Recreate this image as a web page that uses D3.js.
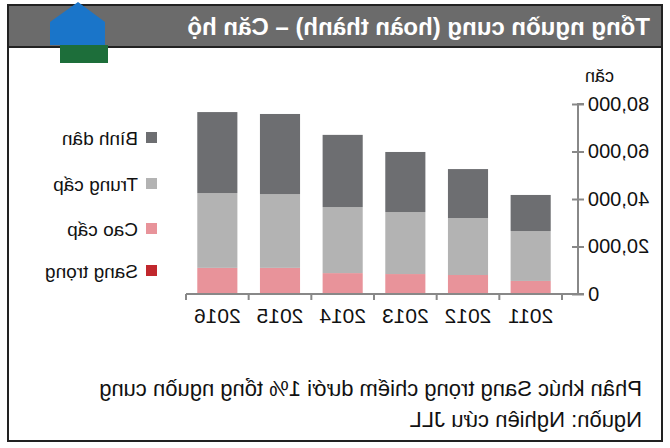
<!DOCTYPE html>
<html><head><meta charset="utf-8">
<script src="https://cdn.jsdelivr.net/npm/d3@7"></script>
<style>
  body { margin: 0; background: #fff; }
  /* the reference picture is a mirror image, so the whole chart is flipped */
  #chart svg { transform: scaleX(-1); display: block; }
</style></head>
<body><div id="chart"></div>
<script>
const years = ['2011', '2012', '2013', '2014', '2015', '2016'];
const sangTrong = [300, 300, 300, 300, 300, 300];
const caoCap = [5200, 7700, 8100, 8500, 10700, 10700];
const trungCap = [21000, 24000, 26100, 27800, 31100, 31500];
const binhDan = [15200, 20600, 25300, 30400, 33700, 34100];
const yTicks = [0, 20000, 40000, 60000, 80000];
const seriesNames = ['Sang trọng', 'Cao cấp', 'Trung cấp', 'Bình dân'];
const colors = ['#c1272d', '#e8939a', '#b3b3b3', '#6d6e71'];

const W = 670, H = 448;
const svg = d3.select('#chart').append('svg').attr('width', W).attr('height', H)
  .style('font-family', 'Liberation Sans, Arial, sans-serif');

// frame and title bar
svg.append('rect').attr('x', 8).attr('y', 5).attr('width', 654).attr('height', 436)
  .attr('fill', '#fff').attr('stroke', '#222').attr('stroke-width', 2);
svg.append('rect').attr('x', 8).attr('y', 5).attr('width', 654).attr('height', 42)
  .attr('fill', '#6b6b6b').attr('stroke', '#222').attr('stroke-width', 2);
svg.append('text').attr('x', 20).attr('y', 35).attr('fill', '#fff')
  .style('font-size', '24px').style('font-weight', 'bold')
  .text('Tổng nguồn cung (hoàn thành) – Căn hộ');
// watermark house
svg.append('path').attr('d', 'M565,22 L592,2 L620,22 L620,45 L565,45 Z').attr('fill', '#1a75c9');
svg.append('rect').attr('x', 562).attr('y', 45).attr('width', 48).attr('height', 18).attr('fill', '#1d6e3a');

const x = d3.scaleBand().domain(years).range([108, 484]).paddingInner(0.36).paddingOuter(0.18);
const y = d3.scaleLinear().domain([0, 80000]).range([294, 104]);

const table = years.map((yr, i) => ({ year: yr, s0: sangTrong[i], s1: caoCap[i], s2: trungCap[i], s3: binhDan[i] }));
const stacked = d3.stack().keys(['s0', 's1', 's2', 's3'])(table);

svg.append('g').selectAll('g').data(stacked).join('g')
  .attr('fill', (d, i) => colors[i])
  .selectAll('rect').data(d => d).join('rect')
  .attr('x', d => x(d.data.year)).attr('width', x.bandwidth())
  .attr('y', d => y(d[1])).attr('height', d => y(d[0]) - y(d[1]));

// y axis
const yAxis = svg.append('g').attr('transform', 'translate(92,0)')
  .call(d3.axisLeft(y).tickValues(yTicks).tickFormat(d3.format(',')).tickSize(6));
yAxis.select('.domain').attr('stroke', '#888').attr('stroke-width', 2).attr('d', 'M-6,104H0V294H-6');
yAxis.selectAll('.tick line').attr('stroke', '#888').attr('x1', -6).attr('x2', 6).attr('stroke-width', 2);
yAxis.selectAll('.tick text').attr('x', -10).style('font-size', '20px').attr('fill', '#111')
  .style('font-family', 'Liberation Sans, Arial, sans-serif');
svg.append('text').attr('x', 85).attr('y', 82).attr('text-anchor', 'end')
  .style('font-size', '18px').attr('fill', '#111').text('căn');

// x axis
const xAxis = svg.append('g').attr('transform', 'translate(0,294)')
  .call(d3.axisBottom(x).tickSize(0).tickPadding(14));
xAxis.select('.domain').attr('stroke', '#888').attr('stroke-width', 2).attr('d', 'M92,0H484');
xAxis.selectAll('.tick text').style('font-size', '21px').attr('fill', '#111')
  .style('font-family', 'Liberation Sans, Arial, sans-serif');
xAxis.selectAll('.sep').data(d3.range(years.length + 1)).join('line')
  .attr('x1', i => 108 + i * 376 / years.length)
  .attr('x2', i => 108 + i * 376 / years.length)
  .attr('y1', 0).attr('y2', 6).attr('stroke', '#888').attr('stroke-width', 2);

// legend
const legendY = [271, 229, 184, 138];
const lg = svg.append('g').selectAll('g').data(seriesNames).join('g')
  .attr('transform', (d, i) => `translate(513,${legendY[i]})`);
lg.append('rect').attr('x', 0).attr('y', -6).attr('width', 11).attr('height', 11).attr('fill', (d, i) => colors[i]);
lg.append('text').attr('x', 19).attr('y', 7).style('font-size', '19px').attr('fill', '#111').text(d => d);

// notes
svg.append('text').attr('x', 28).attr('y', 396).style('font-size', '22px').attr('fill', '#111')
  .text('Phân khúc Sang trọng chiếm dưới 1% tổng nguồn cung');
svg.append('text').attr('x', 28).attr('y', 427).style('font-size', '22px').attr('fill', '#111')
  .text('Nguồn: Nghiên cứu JLL');
</script></body></html>
